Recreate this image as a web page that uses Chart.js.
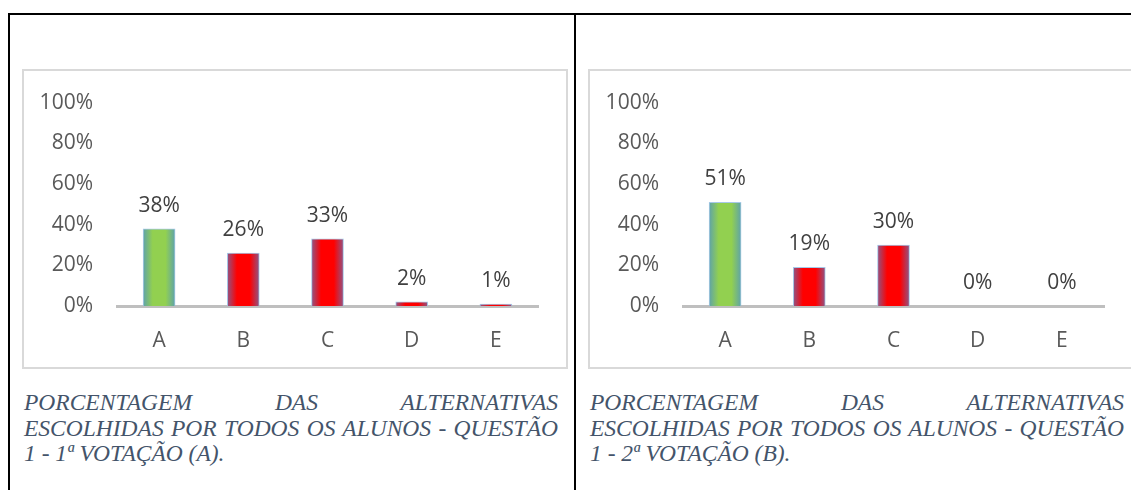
<!DOCTYPE html>
<html>
<head>
<meta charset="utf-8">
<script src="https://cdn.jsdelivr.net/npm/chart.js@4.4.0/dist/chart.umd.min.js"></script>
<style>
  html, body { margin: 0; padding: 0; background: #fff; }
  body { width: 1131px; height: 490px; position: relative; overflow: hidden; }
  .line { position: absolute; background: #000; }
  .box { position: absolute; top: 69px; width: 542px; height: 296px; border: 2px solid #d9d9d9; }
  .box canvas { display: block; position: absolute; left: 0; top: -5px; }
  .caption {
    position: absolute; top: 390px; width: 534px;
    font-family: "Liberation Serif", "Times New Roman", serif; font-style: italic;
    font-size: 23.5px; line-height: 25.5px; color: #44546a;
  }
  .caption div { white-space: nowrap; text-align: justify; text-align-last: justify; }
  .caption div.last { text-align-last: left; }
</style>
</head>
<body>
<div class="line" style="left:8px; top:13px; width:1123px; height:2px;"></div>
<div class="line" style="left:8px; top:13px; width:2px; height:477px;"></div>
<div class="line" style="left:574px; top:13px; width:2px; height:477px;"></div>

<div class="box" style="left:22px;"><canvas id="chartA"></canvas></div>
<div class="box" style="left:588px;"><canvas id="chartB"></canvas></div>

<div class="caption" style="left:24px;">
  <div>PORCENTAGEM DAS ALTERNATIVAS</div>
  <div>ESCOLHIDAS POR TODOS OS ALUNOS - QUESTÃO</div>
  <div class="last">1 - 1ª VOTAÇÃO (A).</div>
</div>
<div class="caption" style="left:590px;">
  <div>PORCENTAGEM DAS ALTERNATIVAS</div>
  <div>ESCOLHIDAS POR TODOS OS ALUNOS - QUESTÃO</div>
  <div class="last">1 - 2ª VOTAÇÃO (B).</div>
</div>

<script>
// Data
const alternativas = ['A', 'B', 'C', 'D', 'E'];
const votacao1 = [38, 26, 33, 2, 1];
const votacao2 = [51, 19, 30, 0, 0];
const yTicks = [0, 20, 40, 60, 80, 100];

const tickFont = { family: 'Open Sans', size: 21 };

// horizontal gradient so the bars look a bit like the office "path" fill
function barFill(c) {
    const green = c.dataIndex === 0;
    const base = green ? '#92d050' : '#ff0000';
    const edge = green ? '#5fa3a8' : '#8f5585';
    const chart = c.chart;
    if (!chart.chartArea || c.dataIndex === undefined) return base;
    const x = chart.scales.x.getPixelForValue(c.dataIndex);
    const w = 32;
    const g = chart.ctx.createLinearGradient(x - w / 2, 0, x + w / 2, 0);
    g.addColorStop(0, edge);
    g.addColorStop(0.3, base);
    g.addColorStop(0.7, base);
    g.addColorStop(1, edge);
    return g;
}

// value labels on top of the bars
const valueLabels = {
    id: 'valueLabels',
    afterDatasetsDraw(chart) {
        const ctx = chart.ctx;
        const meta = chart.getDatasetMeta(0);
        const values = chart.data.datasets[0].data;
        ctx.save();
        ctx.font = '21px "Open Sans"';
        ctx.fillStyle = '#404040';
        ctx.textAlign = 'center';
        ctx.textBaseline = 'middle';
        meta.data.forEach(function(bar, i) {
            ctx.fillText(values[i] + '%', bar.x, bar.y - 23);
        });
        ctx.restore();
    }
};

function makeChart(id, values) {
    const canvas = document.getElementById(id);
    canvas.width = 542;
    canvas.height = 301;
    return new Chart(canvas.getContext('2d'), {
        type: 'bar',
        data: {
            labels: alternativas,
            datasets: [{
                data: values,
                backgroundColor: barFill,
                borderColor: 'rgba(157,195,230,0.9)',
                borderWidth: 1,
                barThickness: 32
            }]
        },
        options: {
            responsive: false,
            maintainAspectRatio: false,
            animation: false,
            layout: { padding: { top: 21, right: 28, bottom: 14, left: 0 } },
            plugins: { legend: { display: false }, tooltip: { enabled: false } },
            scales: {
                x: {
                    afterFit(scale) { scale.height = 47; },
                    grid: { display: false, drawTicks: false },
                    border: { display: true, color: '#bfbfbf', width: 3 },
                    ticks: { color: '#595959', font: tickFont, padding: 22, maxRotation: 0 }
                },
                y: {
                    min: 0,
                    max: 100,
                    afterFit(scale) { scale.width = 93; },
                    afterBuildTicks(scale) { scale.ticks = yTicks.map(v => ({ value: v })); },
                    grid: { display: false, drawTicks: false },
                    border: { display: false },
                    ticks: {
                        color: '#595959', font: tickFont, padding: 24,
                        callback: v => v + '%'
                    }
                }
            }
        },
        plugins: [valueLabels]
    });
}

makeChart('chartA', votacao1);
makeChart('chartB', votacao2);
</script>
</body>
</html>
